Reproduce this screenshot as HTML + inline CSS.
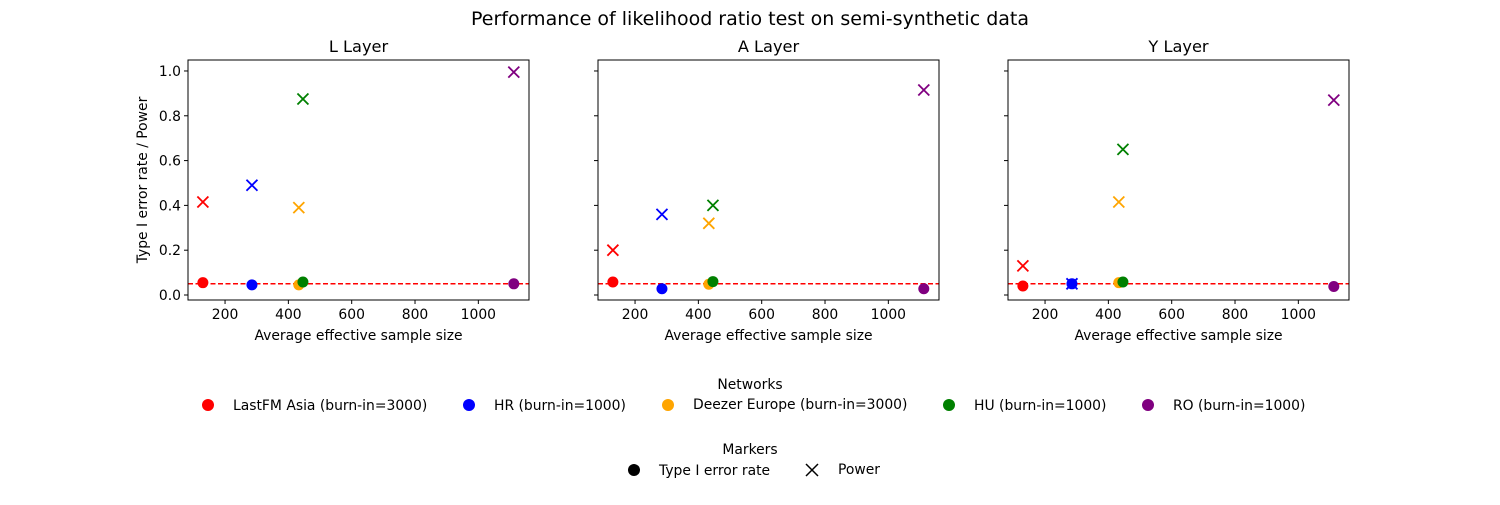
<!DOCTYPE html>
<html><head><meta charset="utf-8"><style>
body{margin:0;background:#fff;}
svg text{font-family:"DejaVu Sans","Liberation Sans",sans-serif;fill:#000;}
</style></head><body>
<svg id="chart" width="1500" height="500" xmlns="http://www.w3.org/2000/svg">
<text x="750" y="25" font-size="19" text-anchor="middle">Performance of likelihood ratio test on semi-synthetic data</text>
<g id="panels"></g>
<g id="legend">
<text x="750" y="389" font-size="13.9" text-anchor="middle">Networks</text>
<circle cx="208" cy="405" r="6" fill="red"/>
<text x="233" y="410" font-size="13.9">LastFM Asia (burn-in=3000)</text>
<circle cx="469" cy="405" r="6" fill="blue"/>
<text x="494" y="410" font-size="13.9">HR (burn-in=1000)</text>
<circle cx="668" cy="405" r="6" fill="orange"/>
<text x="693" y="409" font-size="13.9">Deezer Europe (burn-in=3000)</text>
<circle cx="949" cy="405" r="6" fill="green"/>
<text x="974" y="410" font-size="13.9">HU (burn-in=1000)</text>
<circle cx="1148" cy="405" r="6" fill="purple"/>
<text x="1173" y="410" font-size="13.9">RO (burn-in=1000)</text>
<text x="750" y="454" font-size="13.9" text-anchor="middle">Markers</text>
<circle cx="634" cy="470" r="6" fill="black"/>
<text x="659" y="475" font-size="13.9">Type I error rate</text>
<path d="M806,464 L818,476 M818,464 L806,476" stroke="black" stroke-width="1.5"/>
<text x="838" y="474" font-size="13.9">Power</text>
</g>
</svg>
<script>
const networks = ["LastFM Asia","HR","Deezer Europe","HU","RO"];
const colors = ["red","blue","orange","green","purple"];
const sampleSizes = [130, 285, 433, 446, 1112];
const panelTitles = ["L Layer","A Layer","Y Layer"];
const typeIL = [0.055, 0.045, 0.045, 0.058, 0.05];
const powerL = [0.415, 0.49, 0.39, 0.875, 0.995];
const typeIA = [0.058, 0.028, 0.048, 0.06, 0.028];
const powerA = [0.2, 0.36, 0.32, 0.4, 0.915];
const typeIY = [0.04, 0.05, 0.055, 0.058, 0.038];
const powerY = [0.13, 0.05, 0.415, 0.65, 0.87];
const xTicks = [200, 400, 600, 800, 1000];
const yTicks = [0.0, 0.2, 0.4, 0.6, 0.8, 1.0];
const alpha = 0.05;

const NS = "http://www.w3.org/2000/svg";
const root = document.getElementById("panels");
const typeISets = [typeIL, typeIA, typeIY];
const powerSets = [powerL, powerA, powerY];
const lefts = [188, 598, 1008];
const W = 341, plotTop = 60, H = 240;
function mk(tag, attrs, parent){const e=document.createElementNS(NS,tag);for(const k in attrs)e.setAttribute(k,attrs[k]);parent.appendChild(e);return e;}
const xmin = 83, xmax = 1160;
const ymin = -0.0223, ymax = 1.049;
panelTitles.forEach((t, p) => {
  const L = lefts[p];
  const sx = v => L + (v - xmin) / (xmax - xmin) * W;
  const sy = v => plotTop + H - (v - ymin) / (ymax - ymin) * H;
  const g = mk("g", {}, root);
  
  
  const title = mk("text", {x: L + W/2, y: plotTop - 8, "font-size": 16.2, "text-anchor": "middle"}, g);
  title.textContent = t;
  
  
  xTicks.forEach(v => {
    const x = sx(v);
    mk("line", {x1:x, x2:x, y1:plotTop+H, y2:plotTop+H+4, stroke:"#000"}, g);
    const tx = mk("text", {x:x, y:plotTop+H+19, "font-size":13.9, "text-anchor":"middle"}, g);
    tx.textContent = v;
    
    
  });
  yTicks.forEach(v => {
    const y = sy(v);
    mk("line", {x1:L-4, x2:L, y1:y, y2:y, stroke:"#000"}, g);
    if (p === 0) {
      const ty = mk("text", {x:L-7, y:y+5, "font-size":13.9, "text-anchor":"end"}, g);
      ty.textContent = v.toFixed(1);
      
      
    }
  });
  const xl = mk("text", {x:L+W/2, y:340, "font-size":13.9, "text-anchor":"middle"}, g);
  xl.textContent = "Average effective sample size";
  
  
  if (p === 0) {
    const yl = mk("text", {x:0, y:0, "font-size":13.9, "text-anchor":"middle", transform:`translate(147,${plotTop+H/2}) rotate(-90)`}, g);
    yl.textContent = "Type I error rate / Power";
    
    
  }
  const ref = mk("line", {x1:L, x2:L+W, y1:sy(alpha), y2:sy(alpha), stroke:"red", "stroke-width":1.5, "stroke-dasharray":"5,2.5"}, g);
  
  
  sampleSizes.forEach((s, i) => {
    const c = mk("circle", {cx:sx(s), cy:sy(typeISets[p][i]), r:5.5, fill:colors[i]}, g);
    
    
    const x = sx(s), y = sy(powerSets[p][i]);
    const m = mk("path", {d:`M${x-5.5},${y-5.5} L${x+5.5},${y+5.5} M${x+5.5},${y-5.5} L${x-5.5},${y+5.5}`, stroke:colors[i], "stroke-width":1.8}, g);
    
    
  });
  mk("rect", {x:L, y:plotTop, width:W, height:H, fill:"none", stroke:"#000", "stroke-width":1}, g);
});
</script>
</body></html>
